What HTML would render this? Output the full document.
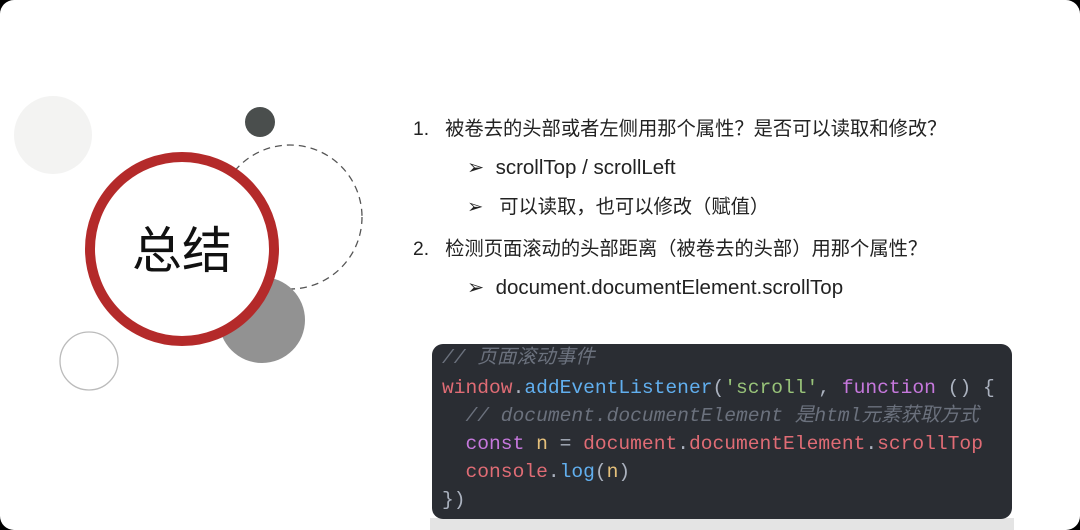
<!DOCTYPE html>
<html><head><meta charset="utf-8"><style>
html,body{margin:0;padding:0;background:#000;}
#p{position:relative;width:1080px;height:530px;background:#fff;border-radius:14px;overflow:hidden;font-family:"Liberation Sans","Noto Sans CJK SC",sans-serif;color:#222;}
.t{position:absolute;font-size:19.3px;white-space:nowrap;line-height:20px;}
.l{font-size:20.5px;}
#code{position:absolute;left:432px;top:344px;width:580px;height:175px;background:#2a2d33;border-radius:11px;font-family:"Liberation Mono","Noto Sans CJK SC",monospace;font-size:19.6px;color:#abb2bf;}
#code div{position:absolute;left:10px;white-space:pre;line-height:24px;}
.c{color:#6b717d;font-style:italic}.r{color:#e06c75}.b{color:#61afef}.g{color:#98c379}.m{color:#c678dd}.y{color:#e5c07b}
</style></head><body><div id="p">
<svg width="1080" height="530" style="position:absolute;left:0;top:0">
<circle cx="53" cy="135" r="39" fill="#f3f3f2"/>
<circle cx="260" cy="122" r="15" fill="#4a4e4d"/>
<circle cx="290" cy="217" r="72" fill="none" stroke="#555" stroke-width="1.3" stroke-dasharray="7,5"/>
<circle cx="262" cy="320" r="43" fill="#929292"/>
<circle cx="89" cy="361" r="29" fill="none" stroke="#bbb" stroke-width="1.3"/>
<circle cx="182" cy="249" r="92" fill="#fff" stroke="#b42a2a" stroke-width="10"/>
<text x="182" y="268" font-size="50" text-anchor="middle" font-family="Noto Sans CJK SC,sans-serif" fill="#111">总结</text>
<rect x="430" y="518" width="584" height="12" fill="#e4e4e4"/>
</svg>
<div class="t" style="left:413px;top:120px">1.&nbsp;&nbsp; 被卷去的头部或者左侧用那个属性？是否可以读取和修改？</div>
<div class="t l" style="left:467px;top:158px">➢&nbsp; scrollTop / scrollLeft</div>
<div class="t" style="left:467px;top:198px">➢&nbsp;&nbsp; 可以读取，也可以修改（赋值）</div>
<div class="t" style="left:413px;top:240px">2.&nbsp;&nbsp; 检测页面滚动的头部距离（被卷去的头部）用那个属性？</div>
<div class="t l" style="left:467px;top:278px">➢&nbsp; document.documentElement.scrollTop</div>
<div id="code">
<div style="top:2px" class="c">// 页面滚动事件</div>
<div style="top:32px"><span class="r">window</span>.<span class="b">addEventListener</span>(<span class="g">'scroll'</span>, <span class="m">function</span> () {</div>
<div style="top:60px" class="c">  // document.documentElement 是html元素获取方式</div>
<div style="top:88px">  <span class="m">const</span> <span class="y">n</span> = <span class="r">document</span>.<span class="r">documentElement</span>.<span class="r">scrollTop</span></div>
<div style="top:116px">  <span class="r">console</span>.<span class="b">log</span>(<span class="y">n</span>)</div>
<div style="top:144px">})</div>
</div>
</div></body></html>
